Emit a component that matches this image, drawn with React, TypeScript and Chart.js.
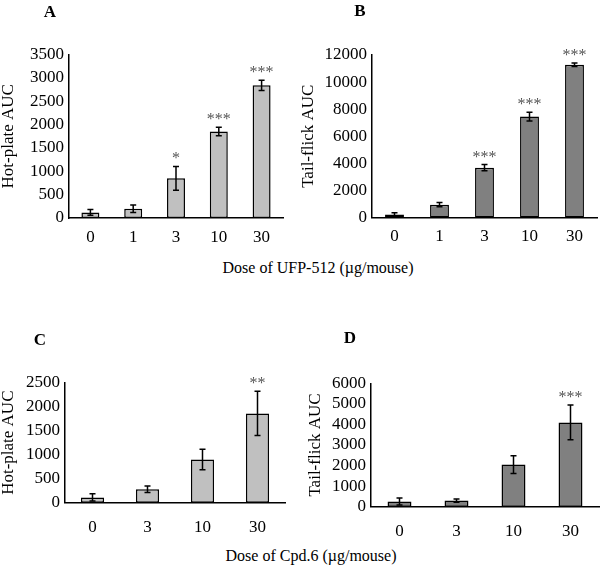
import React, { useEffect, useRef } from "react";
import { Chart, registerables } from "chart.js";

Chart.register(...registerables);

// ---- Data ----
const ufpDoses = ["0", "1", "3", "10", "30"];
const hotPlateUfpMeans = [120, 200, 850, 1850, 2840];
const hotPlateUfpErrors = [60, 80, 255, 90, 110];
const hotPlateUfpSig = ["", "", "*", "***", "***"];

const tailFlickUfpMeans = [230, 950, 3680, 7450, 11280];
const tailFlickUfpErrors = [120, 150, 230, 330, 130];
const tailFlickUfpSig = ["", "", "***", "***", "***"];

const cpdDoses = ["0", "3", "10", "30"];
const hotPlateCpdMeans = [110, 280, 900, 1860];
const hotPlateCpdErrors = [75, 70, 215, 460];
const hotPlateCpdSig = ["", "", "", "**"];

const tailFlickCpdMeans = [250, 300, 2050, 4100];
const tailFlickCpdErrors = [170, 80, 430, 840];
const tailFlickCpdSig = ["", "", "", "***"];

const SERIF = '"Liberation Serif", "Times New Roman", serif';

const errorBarPlugin = {
  id: "errorBars",
  afterDatasetsDraw(chart: any, _args: any, opts: any) {
    const { ctx } = chart;
    const meta = chart.getDatasetMeta(0);
    const yScale = chart.scales.y;
    const means = chart.data.datasets[0].data as number[];
    const errs: number[] = opts.errors || [];
    const sig: string[] = opts.sig || [];
    ctx.save();
    ctx.strokeStyle = "#000";
    ctx.lineWidth = 1.5;
    meta.data.forEach((bar: any, i: number) => {
      const x = bar.x;
      const yt = yScale.getPixelForValue(means[i] + errs[i]);
      const yb = yScale.getPixelForValue(Math.max(0, means[i] - errs[i]));
      ctx.beginPath();
      ctx.moveTo(x, yt);
      ctx.lineTo(x, yb);
      ctx.moveTo(x - 3, yt);
      ctx.lineTo(x + 3, yt);
      ctx.moveTo(x - 3, yb);
      ctx.lineTo(x + 3, yb);
      ctx.stroke();
      if (sig[i]) {
        ctx.fillStyle = "#555";
        ctx.font = `16px ${SERIF}`;
        ctx.textAlign = "center";
        ctx.textBaseline = "alphabetic";
        ctx.fillText(sig[i], x, yt - 3);
      }
    });
    ctx.restore();
  },
};

type PanelProps = {
  canvas: { left: number; top: number; width: number; height: number };
  area: { l: number; t: number; r: number; b: number };
  titleCx: number;
  labels: string[];
  means: number[];
  errors: number[];
  sig: string[];
  color: string;
  yMax: number;
  yStep: number;
  yTitle: string;
  xPad: number;
};

function Panel(p: PanelProps) {
  const ref = useRef<HTMLCanvasElement | null>(null);
  useEffect(() => {
    if (!ref.current) return;
    const { canvas, area } = p;
    const padLeft = Math.max(0, p.titleCx - 8.5 - canvas.left);
    const yw = area.l - canvas.left - padLeft;
    const padTop = area.t - canvas.top;
    const padRight = canvas.left + canvas.width - area.r;
    const xh = canvas.top + canvas.height - area.b;
    const chart = new Chart(ref.current, {
      type: "bar",
      data: {
        labels: p.labels,
        datasets: [
          {
            data: p.means,
            backgroundColor: p.color,
            borderColor: "#000",
            borderWidth: 1.5,
            borderSkipped: false,
            barPercentage: 0.42,
            categoryPercentage: 1,
          },
        ],
      },
      options: {
        animation: false,
        responsive: false,
        maintainAspectRatio: false,
        devicePixelRatio: 1,
        layout: { padding: { left: padLeft, top: padTop, right: padRight, bottom: 0 } },
        plugins: {
          legend: { display: false },
          tooltip: { enabled: false },
          title: { display: false },
          errorBars: { errors: p.errors, sig: p.sig },
        } as any,
        scales: {
          x: {
            grid: { display: false, drawTicks: false },
            border: { display: true, color: "#000", width: 1.5 },
            ticks: { color: "#000", font: { family: SERIF, size: 17 }, padding: p.xPad, maxRotation: 0, autoSkip: false },
            afterFit: (s: any) => {
              s.height = xh;
            },
          },
          y: {
            min: 0,
            max: p.yMax,
            grid: { display: false, drawTicks: false },
            border: { display: true, color: "#000", width: 1.5 },
            ticks: {
              color: "#000",
              font: { family: SERIF, size: 17, lineHeight: 1 },
              padding: 5,
              stepSize: p.yStep,
              autoSkip: false,
              callback: (v: any) => String(v),
            },
            title: {
              display: true,
              text: p.yTitle,
              color: "#000",
              font: { family: SERIF, size: 17, lineHeight: 1 },
              padding: 0,
            },
            afterFit: (s: any) => {
              s.width = yw;
            },
          },
        },
      },
      plugins: [errorBarPlugin],
    });
    return () => chart.destroy();
  }, []);
  return (
    <canvas
      ref={ref}
      width={p.canvas.width}
      height={p.canvas.height}
      style={{
        position: "absolute",
        left: p.canvas.left,
        top: p.canvas.top,
        width: p.canvas.width,
        height: p.canvas.height,
      }}
    />
  );
}

function Text(props: { cx: number; cy: number; text: string; bold?: boolean; size: number }) {
  return (
    <div
      style={{
        position: "absolute",
        left: props.cx - 150,
        top: props.cy - 10,
        width: 300,
        height: 20,
        lineHeight: "20px",
        textAlign: "center",
        fontFamily: SERIF,
        fontSize: props.size,
        fontWeight: props.bold ? "bold" : "normal",
        color: "#000",
        whiteSpace: "nowrap",
      }}
    >
      {props.text}
    </div>
  );
}

export default function App() {
  return (
    <div style={{ position: "absolute", left: 0, top: 0, width: 600, height: 565, background: "#fff", overflow: "hidden" }}>
      <Panel
        canvas={{ left: 0, top: 0, width: 290, height: 250 }}
        area={{ l: 69, t: 54.5, r: 283, b: 218 }}
        titleCx={8}
        labels={ufpDoses}
        means={hotPlateUfpMeans}
        errors={hotPlateUfpErrors}
        sig={hotPlateUfpSig}
        color="#c0c0c0"
        yMax={3500}
        yStep={500}
        yTitle="Hot-plate AUC"
        xPad={9}
      />
      <Panel
        canvas={{ left: 290, top: 0, width: 310, height: 250 }}
        area={{ l: 372, t: 55, r: 597, b: 217.5 }}
        titleCx={309}
        labels={ufpDoses}
        means={tailFlickUfpMeans}
        errors={tailFlickUfpErrors}
        sig={tailFlickUfpSig}
        color="#808080"
        yMax={12000}
        yStep={2000}
        yTitle="Tail-flick AUC"
        xPad={9}
      />
      <Panel
        canvas={{ left: 0, top: 280, width: 290, height: 260 }}
        area={{ l: 65, t: 382.7, r: 285, b: 502.7 }}
        titleCx={9}
        labels={cpdDoses}
        means={hotPlateCpdMeans}
        errors={hotPlateCpdErrors}
        sig={hotPlateCpdSig}
        color="#c0c0c0"
        yMax={2500}
        yStep={500}
        yTitle="Hot-plate AUC"
        xPad={15}
      />
      <Panel
        canvas={{ left: 290, top: 280, width: 310, height: 260 }}
        area={{ l: 371, t: 383.3, r: 599, b: 506.7 }}
        titleCx={316}
        labels={cpdDoses}
        means={tailFlickCpdMeans}
        errors={tailFlickCpdErrors}
        sig={tailFlickCpdSig}
        color="#808080"
        yMax={6000}
        yStep={1000}
        yTitle="Tail-flick AUC"
        xPad={15}
      />
      <Text cx={50} cy={12} text="A" bold size={17} />
      <Text cx={360} cy={11} text="B" bold size={17} />
      <Text cx={40} cy={340} text="C" bold size={17} />
      <Text cx={350} cy={338} text="D" bold size={17} />
      <Text cx={318} cy={268} text="Dose of UFP-512 (µg/mouse)" size={16} />
      <Text cx={311} cy={556} text="Dose of Cpd.6 (µg/mouse)" size={16} />
    </div>
  );
}
